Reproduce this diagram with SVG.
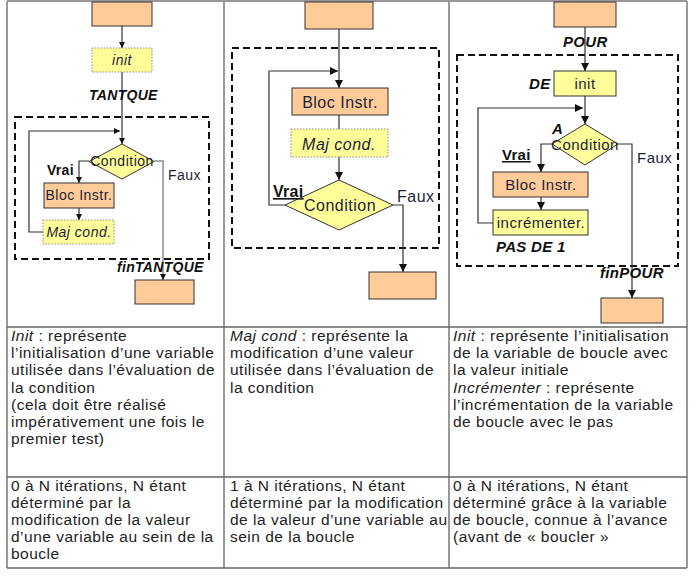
<svg xmlns="http://www.w3.org/2000/svg" width="696" height="576" viewBox="0 0 696 576">
<defs>
<style>
.box{fill:#FFCC99;stroke:#333;stroke-width:1}
.ybox{fill:#FFFF99;stroke:#333;stroke-width:1}
.dbox{fill:#FFFF99;stroke:#888;stroke-width:1;stroke-dasharray:1.5,1.5}
.dia{fill:#FFFF99;stroke:#333;stroke-width:1}
.frame{fill:none;stroke:#111;stroke-width:2;stroke-dasharray:7,4}
.con{fill:none;stroke:#333;stroke-width:1.2}
.gcon{fill:none;stroke:#aaa;stroke-width:2}
.t{font-family:"Liberation Sans",Arial,sans-serif;fill:#1e1e3a;letter-spacing:0.5px}
.b{font-family:"Liberation Sans",Arial,sans-serif;font-weight:bold;fill:#111;letter-spacing:0.3px}
.bi{font-family:"Liberation Sans",Arial,sans-serif;font-weight:bold;font-style:italic;fill:#111;letter-spacing:0.3px}
.tx{font-family:"Liberation Sans",Arial,sans-serif;font-size:15.5px;fill:#222;letter-spacing:0.5px}
.vl{stroke:#999;stroke-width:2}
.hl{stroke:#666;stroke-width:1.5}
</style>
<marker id="arr" viewBox="0 0 10 10" refX="10" refY="5" markerWidth="8" markerHeight="8" markerUnits="userSpaceOnUse" orient="auto"><path d="M0,0 L10,5 L0,10 z" fill="#111"/></marker>
<marker id="arrs" viewBox="0 0 10 10" refX="10" refY="5" markerWidth="6" markerHeight="6" markerUnits="userSpaceOnUse" orient="auto"><path d="M0,0 L10,5 L0,10 z" fill="#111"/></marker>
</defs>
<rect x="0" y="0" width="696" height="576" fill="#fff"/>

<g id="table">
<line class="vl" x1="7" y1="1" x2="687" y2="1"/>
<line class="vl" x1="7" y1="1" x2="7" y2="568"/>
<line class="vl" x1="224" y1="1" x2="224" y2="568"/>
<line class="vl" x1="449" y1="1" x2="449" y2="568"/>
<line class="vl" x1="687" y1="1" x2="687" y2="568"/>
<line class="hl" x1="7" y1="327" x2="687" y2="327"/>
<line class="hl" x1="7" y1="477" x2="687" y2="477"/>
<line class="hl" x1="7" y1="568" x2="687" y2="568"/>
</g>

<g id="frames">
<rect class="frame" x="15" y="117" width="194" height="142"/>
<rect class="frame" x="232" y="48" width="207" height="200"/>
<rect class="frame" x="457" y="55" width="221" height="211"/>
</g>

<g id="connectors">
<path class="con" d="M122,26 V48" marker-end="url(#arrs)"/>
<path class="con" d="M122,72 V144" marker-end="url(#arrs)"/>
<path class="con" d="M43,232 H29 V131 H120" marker-end="url(#arrs)"/>
<path class="con" d="M89,161 H79 V183" marker-end="url(#arrs)"/>
<path class="con" d="M79,208 V220" marker-end="url(#arrs)"/>
<path class="gcon" d="M154,161 H163 V280"/>
<path d="M160,274 L166,274 L163,280 z" fill="#111"/>

<path class="con" d="M339,29 V88" marker-end="url(#arr)"/>
<path class="con" d="M285,205 H269 V71 H338" marker-end="url(#arr)"/>
<path class="con" d="M339,115 V129"/>
<path class="con" d="M339,157 V180" marker-end="url(#arr)"/>
<path class="con" d="M393,205 H403 V272" marker-end="url(#arr)"/>

<path class="con" d="M585,27 V71" marker-end="url(#arr)"/>
<path class="con" d="M585,96 V124" marker-end="url(#arr)"/>
<path class="con" d="M493,223 H478 V108 H583" marker-end="url(#arr)"/>
<path class="con" d="M552,144 H541 V172" marker-end="url(#arr)"/>
<path class="con" d="M541,197 V210" marker-end="url(#arr)"/>
<path class="con" d="M618,144 H632 V298" marker-end="url(#arr)"/>
</g>

<g id="c1-start"><rect class="box" x="92" y="2" width="60" height="24"/></g>
<g id="c1-init"><rect class="dbox" x="92" y="48" width="60" height="24"/><text class="t" x="122" y="65" font-size="14" font-style="italic" text-anchor="middle">init</text></g>
<text class="bi" x="89" y="100" font-size="14">TANTQUE</text>
<g id="c1-cond"><polygon class="dia" points="122,144 154,161.5 122,179 89,161.5"/><text class="t" x="122" y="166" font-size="14" text-anchor="middle">Condition</text></g>
<text class="b" x="47" y="175" font-size="14">Vrai</text>
<text class="t" x="168" y="180" font-size="14">Faux</text>
<g id="c1-bloc"><rect class="box" x="44" y="183" width="70" height="25"/><text class="t" x="79" y="200" font-size="14" text-anchor="middle">Bloc Instr.</text></g>
<g id="c1-maj"><rect class="dbox" x="43" y="220" width="71" height="24"/><text class="t" x="79" y="237" font-size="14" font-style="italic" text-anchor="middle">Maj cond.</text></g>
<text class="bi" x="117" y="272" font-size="14">finTANTQUE</text>
<g id="c1-end"><rect class="box" x="135" y="280" width="59" height="24"/></g>

<g id="c2-start"><rect class="box" x="305" y="2" width="68" height="27"/></g>
<g id="c2-bloc"><rect class="box" x="292" y="88" width="96" height="27"/><text class="t" x="340" y="108" font-size="16" text-anchor="middle">Bloc Instr.</text></g>
<g id="c2-maj"><rect class="dbox" x="291" y="129" width="97" height="28"/><text class="t" x="339" y="150" font-size="16" font-style="italic" text-anchor="middle">Maj cond.</text></g>
<g id="c2-cond"><polygon class="dia" points="339,180 393,205 339,230 285,205"/><text class="t" x="340" y="211" font-size="16" text-anchor="middle">Condition</text></g>
<text class="b" x="273" y="197" font-size="16" text-decoration="underline">Vrai</text>
<text class="t" x="397" y="202" font-size="16">Faux</text>
<g id="c2-end"><rect class="box" x="369" y="272" width="67" height="27"/></g>

<g id="c3-start"><rect class="box" x="554" y="2" width="62" height="25"/></g>
<text class="bi" x="563" y="47" font-size="15">POUR</text>
<text class="bi" x="529" y="89" font-size="15">DE</text>
<g id="c3-init"><rect class="ybox" x="554" y="71" width="62" height="25"/><text class="t" x="585" y="89" font-size="15" text-anchor="middle">init</text></g>
<text class="bi" x="552" y="134" font-size="15">A</text>
<g id="c3-cond"><polygon class="dia" points="585,124 618,144 585,165 552,144"/><text class="t" x="585" y="150" font-size="15" text-anchor="middle">Condition</text></g>
<text class="b" x="502" y="160" font-size="15" text-decoration="underline">Vrai</text>
<text class="t" x="637" y="163" font-size="15">Faux</text>
<g id="c3-bloc"><rect class="box" x="493" y="172" width="95" height="25"/><text class="t" x="541" y="190" font-size="15" text-anchor="middle">Bloc Instr.</text></g>
<g id="c3-incr"><rect class="ybox" x="493" y="210" width="95" height="25"/><text class="t" x="541" y="228" font-size="15" text-anchor="middle">incrémenter.</text></g>
<text class="bi" x="496" y="252" font-size="15">PAS DE 1</text>
<text class="bi" x="600" y="278" font-size="15">finPOUR</text>
<g id="c3-end"><rect class="box" x="601" y="298" width="62" height="25"/></g>

<g id="text-r1">
<text class="tx" x="11" y="341"><tspan font-style="italic">Init</tspan> : représente</text>
<text class="tx" x="11" y="358">l’initialisation d’une variable</text>
<text class="tx" x="11" y="375.4">utilisée dans l’évaluation de</text>
<text class="tx" x="11" y="392.6">la condition</text>
<text class="tx" x="11" y="409.8">(cela doit être réalisé</text>
<text class="tx" x="11" y="427">impérativement une fois le</text>
<text class="tx" x="11" y="444.2">premier test)</text>

<text class="tx" x="230" y="341"><tspan font-style="italic">Maj cond</tspan> : représente la</text>
<text class="tx" x="230" y="358">modification d’une valeur</text>
<text class="tx" x="230" y="375.4">utilisée dans l’évaluation de</text>
<text class="tx" x="230" y="392.6">la condition</text>

<text class="tx" x="453" y="341"><tspan font-style="italic">Init</tspan> : représente l’initialisation</text>
<text class="tx" x="453" y="358">de la variable de boucle avec</text>
<text class="tx" x="453" y="375.4">la valeur initiale</text>
<text class="tx" x="453" y="392.6"><tspan font-style="italic">Incrémenter</tspan> : représente</text>
<text class="tx" x="453" y="409.8">l’incrémentation de la variable</text>
<text class="tx" x="453" y="427">de boucle avec le pas</text>
</g>

<g id="text-r2">
<text class="tx" x="11" y="491">0 à N itérations, N étant</text>
<text class="tx" x="11" y="508">déterminé par la</text>
<text class="tx" x="11" y="525">modification de la valeur</text>
<text class="tx" x="11" y="542">d’une variable au sein de la</text>
<text class="tx" x="11" y="559">boucle</text>

<text class="tx" x="230" y="491">1 à N itérations, N étant</text>
<text class="tx" x="230" y="508">déterminé par la modification</text>
<text class="tx" x="230" y="525">de la valeur d’une variable au</text>
<text class="tx" x="230" y="542">sein de la boucle</text>

<text class="tx" x="453" y="491">0 à N itérations, N étant</text>
<text class="tx" x="453" y="508">déterminé grâce à la variable</text>
<text class="tx" x="453" y="525">de boucle, connue à l’avance</text>
<text class="tx" x="453" y="542">(avant de « boucler »</text>
</g>
</svg>
